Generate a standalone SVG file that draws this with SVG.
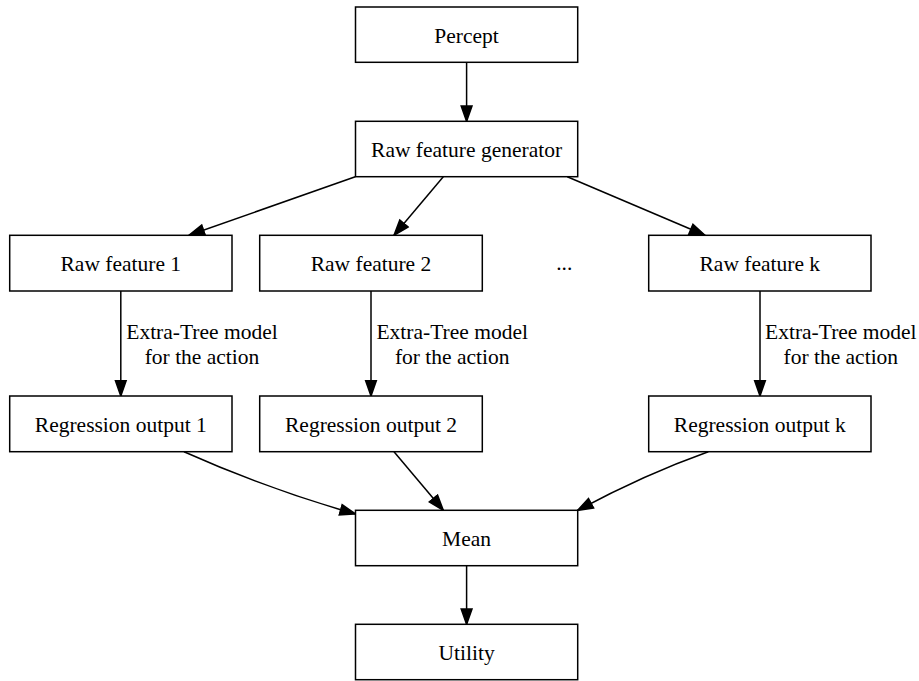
<svg xmlns="http://www.w3.org/2000/svg" width="919" height="681" viewBox="0 0 919 681">
<style>
.node rect{fill:#ffffff;stroke:#000000;stroke-width:1.5}
.edges path{fill:none;stroke:#000000;stroke-width:1.5;marker-end:url(#arr)}
</style>
<defs>
<marker id="arr" markerUnits="userSpaceOnUse" markerWidth="18" markerHeight="14" viewBox="-1 -7 18 14" refX="15.4" refY="0" orient="auto">
<path d="M0,-5.4 L15.4,0 L0,5.4 z" fill="#000000" stroke="#000000" stroke-width="1.5"/>
</marker>
</defs>
<rect width="919" height="681" fill="#ffffff"/>
<g class="edges" id="edges">
<path d="M466.6,62.3 L466.6,121.3"/>
<path d="M355.3,176.7 L189,235.3"/>
<path d="M443.3,176.7 L394,235.3"/>
<path d="M567.3,176.7 L705,235.3"/>
<path d="M120.8,291 L120.8,396"/>
<path d="M371,291 L371,396"/>
<path d="M760,291 L760,396"/>
<path d="M184,451.7 Q270,490 355.5,514"/>
<path d="M394,451.7 L443.3,510.3"/>
<path d="M708.3,451.7 Q643,475 577.5,510.5"/>
<path d="M466.6,565.7 L466.6,624.3"/>
</g>
<g font-family="Liberation Serif, Times New Roman, serif" font-size="21.5" fill="#000000" text-anchor="middle">
<g id="edge-labels">
<text x="202" y="339">Extra-Tree model</text>
<text x="202" y="363.5">for the action</text>
<text x="452.2" y="339">Extra-Tree model</text>
<text x="452.2" y="363.5">for the action</text>
<text x="840.8" y="339">Extra-Tree model</text>
<text x="840.8" y="363.5">for the action</text>
</g>
<g class="node" id="percept"><rect x="355.5" y="7" width="222.2" height="55.3"/><text x="466.6" y="42.5">Percept</text></g>
<g class="node" id="generator"><rect x="355.5" y="121.3" width="222.2" height="55.4"/><text x="466.6" y="156.8">Raw feature generator</text></g>
<g class="node" id="raw1"><rect x="9.7" y="235.3" width="222.3" height="55.7"/><text x="120.8" y="271">Raw feature 1</text></g>
<g class="node" id="raw2"><rect x="259.7" y="235.3" width="222.6" height="55.7"/><text x="371" y="271">Raw feature 2</text></g>
<g id="dots"><text x="564.2" y="270">...</text></g>
<g class="node" id="rawk"><rect x="648.7" y="235.3" width="222.3" height="55.7"/><text x="759.8" y="271">Raw feature k</text></g>
<g class="node" id="reg1"><rect x="9.7" y="396" width="222.3" height="55.7"/><text x="120.8" y="431.7">Regression output 1</text></g>
<g class="node" id="reg2"><rect x="259.7" y="396" width="222.6" height="55.7"/><text x="371" y="431.7">Regression output 2</text></g>
<g class="node" id="regk"><rect x="648.7" y="396" width="222.3" height="55.7"/><text x="759.8" y="431.7">Regression output k</text></g>
<g class="node" id="mean"><rect x="355.5" y="510.3" width="222.2" height="55.4"/><text x="466.6" y="545.8">Mean</text></g>
<g class="node" id="utility"><rect x="355.5" y="624.3" width="222.2" height="55.4"/><text x="466.6" y="659.8">Utility</text></g>
</g>
</svg>
